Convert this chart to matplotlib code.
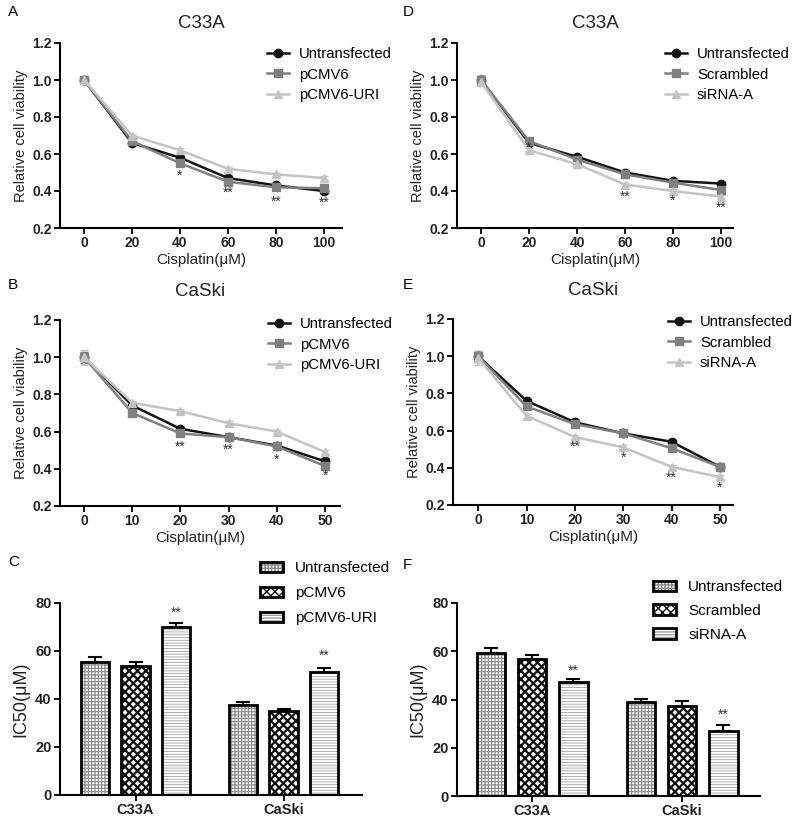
import numpy as np
import matplotlib.pyplot as plt
from matplotlib.patches import Patch
from matplotlib.legend_handler import HandlerTuple

plt.rcParams['font.family'] = ['Liberation Sans', 'DejaVu Sans']
plt.rcParams['hatch.linewidth'] = 1.0

W, H = 800, 825

# ---- data ----
dose_c33a = [0, 20, 40, 60, 80, 100]
dose_caski = [0, 10, 20, 30, 40, 50]

# A: C33A, overexpression
a_untrans = [1.00, 0.66, 0.58, 0.47, 0.43, 0.40]
a_pcmv6 = [1.00, 0.67, 0.55, 0.45, 0.42, 0.415]
a_uri = [1.00, 0.70, 0.62, 0.52, 0.49, 0.47]
a_err = [[0.01, 0.01, 0.01, 0.01, 0.01, 0.01]] * 3
a_stars = [(40, 0.48, '*'), (60, 0.39, '**'), (80, 0.34, '**'), (100, 0.335, '**')]

# B: CaSki, overexpression
b_untrans = [1.00, 0.74, 0.615, 0.57, 0.525, 0.44]
b_pcmv6 = [1.00, 0.70, 0.59, 0.57, 0.52, 0.415]
b_uri = [1.00, 0.755, 0.71, 0.645, 0.60, 0.49]
b_err = [[0.02, 0.01, 0.01, 0.01, 0.01, 0.02],
         [0.03, 0.01, 0.01, 0.01, 0.01, 0.01],
         [0.04, 0.01, 0.01, 0.01, 0.01, 0.01]]
b_stars = [(20, 0.52, '**'), (30, 0.50, '**'), (40, 0.45, '*'), (50, 0.36, '*')]

# D: C33A, knockdown
d_untrans = [1.00, 0.66, 0.585, 0.50, 0.455, 0.44]
d_scram = [1.00, 0.67, 0.57, 0.49, 0.445, 0.405]
d_sirna = [0.99, 0.62, 0.545, 0.435, 0.40, 0.37]
d_err = [[0.02, 0.01, 0.01, 0.01, 0.01, 0.01],
         [0.02, 0.01, 0.01, 0.01, 0.01, 0.01],
         [0.02, 0.01, 0.01, 0.01, 0.01, 0.01]]
d_stars = [(20, 0.635, '*'), (60, 0.37, '**'), (80, 0.345, '*'), (100, 0.31, '**')]

# E: CaSki, knockdown
e_untrans = [1.00, 0.76, 0.645, 0.585, 0.54, 0.405]
e_scram = [1.00, 0.73, 0.635, 0.585, 0.505, 0.405]
e_sirna = [0.99, 0.68, 0.565, 0.51, 0.405, 0.35]
e_err = [[0.02, 0.01, 0.01, 0.01, 0.01, 0.01],
         [0.03, 0.01, 0.01, 0.01, 0.01, 0.01],
         [0.04, 0.01, 0.01, 0.01, 0.01, 0.01]]
e_stars = [(20, 0.515, '**'), (30, 0.455, '*'), (40, 0.345, '**'), (50, 0.29, '*')]

# C / F: IC50 bars
cell_lines = ['C33A', 'CaSki']
c_labels = ['Untransfected', 'pCMV6', 'pCMV6-URI']
c_vals = [[55.6, 37.3], [53.6, 35.2], [69.8, 51.2]]
c_errs = [[2.0, 1.5], [2.0, 0.8], [2.0, 1.8]]
c_stars = [(0, 76.0, '**'), (1, 58.0, '**')]

f_labels = ['Untransfected', 'Scrambled', 'siRNA-A']
f_vals = [[59.3, 39.1], [56.6, 37.3], [47.2, 27.0]]
f_errs = [[2.0, 1.0], [2.0, 2.0], [1.2, 2.5]]
f_stars = [(0, 52.0, '**'), (1, 33.5, '**')]

line_colors = ['#111111', '#808080', '#c4c4c4']
line_markers = ['o', 's', '^']
hatches = ['+++++', 'xxxx', '------']
hatch_colors = ['#8a8a8a', '#111111', '#a0a0a0']
hatch_lw = [0.8, 1.6, 0.6]


def rect(l, t, r, b):
    return [l / W, 1 - b / H, (r - l) / W, (b - t) / H]


def style_axes(ax, size=10):
    ax.spines['top'].set_visible(False)
    ax.spines['right'].set_visible(False)
    ax.spines['left'].set_linewidth(1.5)
    ax.spines['bottom'].set_linewidth(1.5)
    ax.tick_params(width=1.3, length=4, labelsize=size, pad=2)
    for lab in ax.get_xticklabels() + ax.get_yticklabels():
        lab.set_fontweight('bold')
        lab.set_color('#222222')


def line_panel(box, x, series, errs, labels, stars, xlim, title, tpad, letter, letter_xy, leg_xy):
    ax = fig.add_axes(rect(*box))
    handles = []
    for y, e, c, m, lab in zip(series, errs, line_colors, line_markers, labels):
        ax.errorbar(x, y, yerr=e, color=c, marker=m, markersize=6, lw=1.8,
                    capsize=3, elinewidth=1.2, label=lab)
        handles.append(plt.Line2D([], [], color=c, marker=m, markersize=6, lw=1.8))
    for sx, sy, s in stars:
        ax.text(sx, sy, s, ha='center', va='center', fontsize=10, color='#333333')
    ax.set_xlim(*xlim)
    ax.set_ylim(0.2, 1.2)
    ax.set_xticks(x)
    ax.set_yticks([0.2, 0.4, 0.6, 0.8, 1.0, 1.2])
    ax.set_yticklabels(['0.2', '0.4', '0.6', '0.8', '1.0', '1.2'])
    ax.set_xlabel('Cisplatin(μM)', fontsize=11, labelpad=2, color='#222222')
    ax.set_ylabel('Relative cell viability', fontsize=10.5, labelpad=3, color='#222222')
    ax.set_title(title, fontsize=13.5, pad=tpad, color='#222222')
    style_axes(ax)
    fig.text(letter_xy[0] / W, 1 - letter_xy[1] / H, letter, fontsize=11,
             ha='left', va='center')
    ax.legend(handles, labels, loc='upper left', frameon=False, fontsize=10.7,
              bbox_to_anchor=(leg_xy[0] / W, 1 - leg_xy[1] / H),
              bbox_transform=fig.transFigure, borderpad=0, borderaxespad=0,
              handlelength=1.5, handletextpad=0.65, labelspacing=0.45)
    return ax


def bar_panel(box, vals, errs, labels, stars, xlim, letter, letter_xy, leg_xy, spacing):
    ax = fig.add_axes(rect(*box))
    pos = np.arange(len(cell_lines))
    offsets = [-0.275, 0.0, 0.275]
    width = 0.19
    handles = []
    for i in range(3):
        xs = pos + offsets[i]
        hb = ax.bar(xs, vals[i], width, color='white', edgecolor=hatch_colors[i],
                    hatch=hatches[i], linewidth=0, zorder=2)
        for p in hb:
            try:
                p.set_hatch_linewidth(hatch_lw[i])
            except AttributeError:
                pass
        ax.bar(xs, vals[i], width, fill=False, edgecolor='black', linewidth=2.0, zorder=3)
        ax.errorbar(xs, vals[i], yerr=[[0, 0], errs[i]], fmt='none', ecolor='black',
                    elinewidth=1.5, capsize=5, capthick=1.5, zorder=4)
        hp = Patch(facecolor='white', edgecolor=hatch_colors[i], hatch=hatches[i], linewidth=0)
        try:
            hp.set_hatch_linewidth(hatch_lw[i])
        except AttributeError:
            pass
        handles.append((hp, Patch(fill=False, edgecolor='black', linewidth=2.0)))
    for gi, sy, s in stars:
        ax.text(pos[gi] + offsets[2], sy, s, ha='center', va='center', fontsize=10,
                color='#333333')
    ax.set_xlim(*xlim)
    ax.set_ylim(0, 80)
    ax.set_yticks([0, 20, 40, 60, 80])
    ax.set_xticks(pos)
    ax.set_xticklabels(cell_lines)
    ax.set_ylabel('IC50(μM)', fontsize=13, labelpad=4, color='#222222')
    style_axes(ax, 10.5)
    fig.text(letter_xy[0] / W, 1 - letter_xy[1] / H, letter, fontsize=11,
             ha='left', va='center')
    ax.legend(handles, labels, loc='upper left', frameon=False, fontsize=11,
              handler_map={tuple: HandlerTuple(ndivide=1)},
              bbox_to_anchor=(leg_xy[0] / W, 1 - leg_xy[1] / H),
              bbox_transform=fig.transFigure, borderpad=0, borderaxespad=0,
              handlelength=1.5, handleheight=0.65, handletextpad=0.8,
              labelspacing=spacing)
    return ax


fig = plt.figure(figsize=(W / 100, H / 100), dpi=100)

labels_ov = ['Untransfected', 'pCMV6', 'pCMV6-URI']
labels_kd = ['Untransfected', 'Scrambled', 'siRNA-A']

line_panel((60, 43, 342, 228), dose_c33a, [a_untrans, a_pcmv6, a_uri], a_err, labels_ov,
           a_stars, (-10, 107.5), 'C33A', 11, 'A', (8, 12), (267, 47))
line_panel((457, 43, 733, 228), dose_c33a, [d_untrans, d_scram, d_sirna], d_err, labels_kd,
           d_stars, (-10, 105), 'C33A', 11, 'D', (403, 12), (665, 47))
line_panel((60, 320, 340, 506), dose_caski, [b_untrans, b_pcmv6, b_uri], b_err, labels_ov,
           b_stars, (-5, 53.1), 'CaSki', 17, 'B', (8, 285), (268, 317))
line_panel((453, 319, 733, 505), dose_caski, [e_untrans, e_scram, e_sirna], e_err, labels_kd,
           e_stars, (-5.2, 52.7), 'CaSki', 17, 'E', (403, 285), (668, 315))

bar_panel((60, 603, 362, 795), c_vals, c_errs, c_labels, c_stars, (-0.51, 1.53),
          'C', (8, 562), (260, 561), 0.72)
bar_panel((457, 603, 760, 796), f_vals, f_errs, f_labels, f_stars, (-0.5, 1.52),
          'F', (403, 565), (653, 580), 0.65)

fig.savefig('out.png', dpi=100)
